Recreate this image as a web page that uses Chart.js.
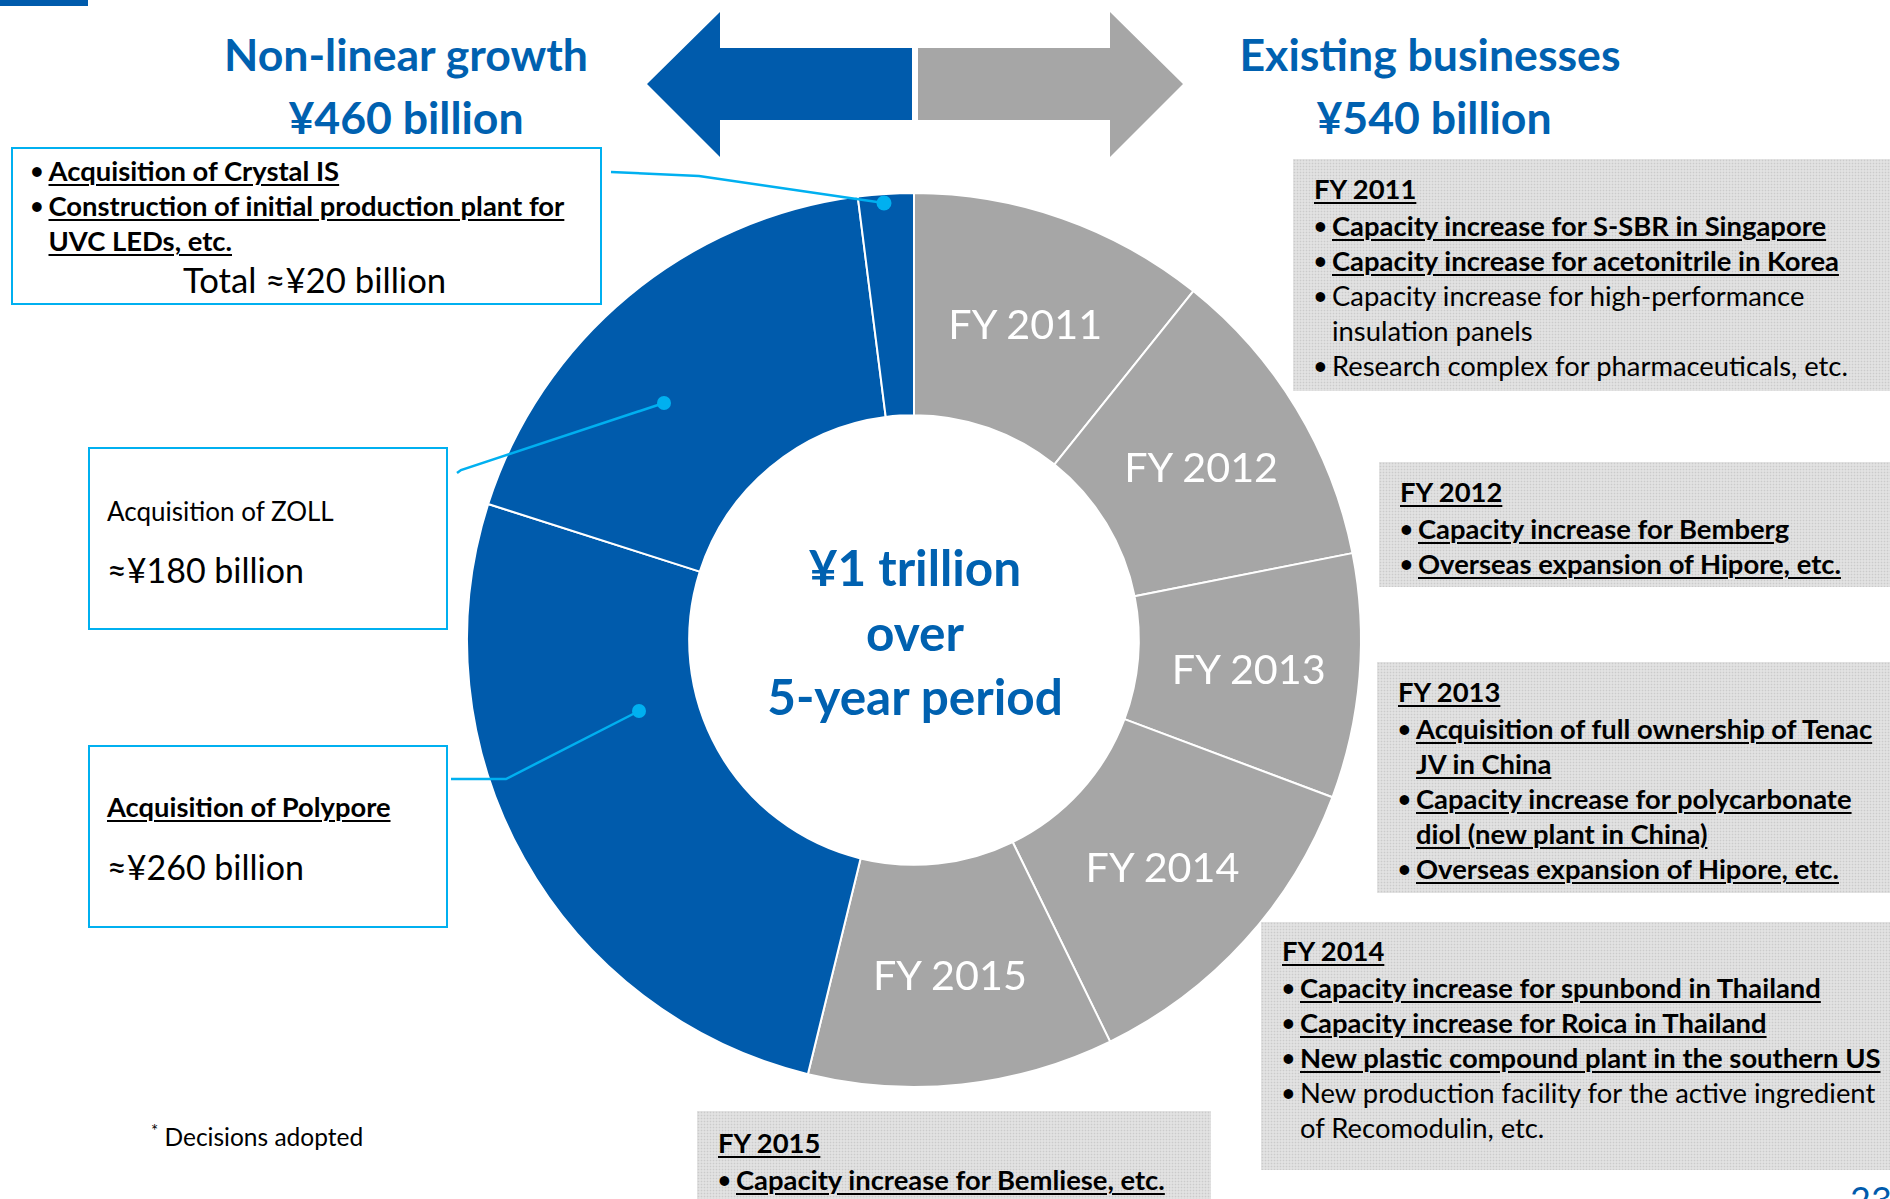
<!DOCTYPE html>
<html><head><meta charset="utf-8">
<script src="https://cdn.jsdelivr.net/npm/chart.js@4.4.1/dist/chart.umd.min.js"></script>
<style>
html,body{margin:0;padding:0;width:1890px;height:1199px;overflow:hidden;background:#fff;font-family:Lato,"Open Sans",sans-serif;color:#000;}
.abs{position:absolute}
.title{position:absolute;font-weight:700;color:#0061B0;font-size:44.6px;line-height:60px;text-align:center;white-space:nowrap;transform:translateX(-50%)}
.cbox{position:absolute;border:2.5px solid #00B0F0;box-sizing:border-box;background:#fff}
.note{position:absolute;box-sizing:border-box;background-color:#e2e2e2;
 background-image:radial-gradient(circle,#cbcbcb 0.7px,transparent 1.1px);background-size:3px 3px;
 font-size:27.4px;line-height:35px;padding-left:21px;white-space:nowrap;z-index:3}
.b{font-weight:700;text-decoration:underline;text-decoration-thickness:2px;text-underline-offset:3px}
.hd{margin-bottom:2px}
.it{position:relative;padding-left:18px}
.it::before{content:"•";position:absolute;left:0;top:0;font-size:22px;font-weight:700}
.seg{position:absolute;color:#fff;font-size:41.3px;white-space:nowrap;transform:translate(-50%,-50%);z-index:2}
#donut{position:absolute;left:454px;top:180px;z-index:1}
svg{position:absolute;left:0;top:0;z-index:5}
.ctr{position:absolute;color:#0061B0;font-weight:700;font-size:49.5px;line-height:64.5px;text-align:center;white-space:nowrap;transform:translateX(-50%);z-index:2}
</style></head><body>

<div class="abs" style="left:0;top:0;width:88px;height:6px;background:#005BAC"></div>

<div class="title" style="left:406px;top:24px">Non-linear growth</div>
<div class="title" style="left:406px;top:87px">¥460 billion</div>
<div class="title" style="left:1430px;top:24px">Existing businesses</div>
<div class="title" style="left:1434px;top:87px">¥540 billion</div>

<svg width="1890" height="1199" viewBox="0 0 1890 1199">
  <polygon points="647,84 720,12 720,48 912,48 912,120 720,120 720,157" fill="#005BAC"/>
  <polygon points="1183,84 1110,12 1110,48 918,48 918,120 1110,120 1110,157" fill="#A6A6A6"/>
  <polyline points="611,172 699,176 884,203" fill="none" stroke="#00B0F0" stroke-width="2.5"/>
  <circle cx="884" cy="203" r="7.5" fill="#00B0F0"/>
  <polyline points="457,473 461,470 664,403" fill="none" stroke="#00B0F0" stroke-width="2.5"/>
  <circle cx="664" cy="403" r="7" fill="#00B0F0"/>
  <polyline points="451,779 506,779 639,711" fill="none" stroke="#00B0F0" stroke-width="2.5"/>
  <circle cx="639" cy="711" r="7" fill="#00B0F0"/>
</svg>

<!-- left boxes -->
<div class="cbox" style="left:11px;top:147px;width:591px;height:158px;">
  <div style="position:absolute;left:17.5px;top:4px;font-size:27.4px;line-height:35px;white-space:nowrap">
    <div class="it"><span class="b">Acquisition of Crystal IS</span></div>
    <div class="it"><span class="b">Construction of initial production plant for</span><br><span class="b">UVC LEDs, etc.</span></div>
  </div>
  <div style="position:absolute;left:170px;top:111px;font-size:34.7px;line-height:40px;white-space:nowrap">Total ≈¥20 billion</div>
</div>
<div class="cbox" style="left:88px;top:447px;width:360px;height:183px;">
  <div style="position:absolute;left:17px;top:44px;font-size:26px;line-height:36px;white-space:nowrap">Acquisition of ZOLL</div>
  <div style="position:absolute;left:17px;top:101px;font-size:34px;line-height:40px;white-space:nowrap">≈¥180 billion</div>
</div>
<div class="cbox" style="left:88px;top:745px;width:360px;height:183px;">
  <div style="position:absolute;left:17px;top:42px;font-size:27.3px;line-height:36px;white-space:nowrap"><span class="b">Acquisition of Polypore</span></div>
  <div style="position:absolute;left:17px;top:100px;font-size:34px;line-height:40px;white-space:nowrap">≈¥260 billion</div>
</div>

<div class="abs" style="left:151px;top:1122px;font-size:24.5px;line-height:30px;white-space:nowrap"><span style="font-size:17px;position:relative;top:-9px">*</span> Decisions adopted</div>

<!-- right boxes -->
<div class="note" style="left:1293px;top:159px;width:597px;height:232px;padding-top:12px">
  <div class="hd"><span class="b">FY 2011</span></div>
  <div class="it"><span class="b">Capacity increase for S-SBR in Singapore</span></div>
  <div class="it"><span class="b">Capacity increase for acetonitrile in Korea</span></div>
  <div class="it">Capacity increase for high-performance<br>insulation panels</div>
  <div class="it">Research complex for pharmaceuticals, etc.</div>
</div>
<div class="note" style="left:1379px;top:462px;width:511px;height:125px;padding-top:12px">
  <div class="hd"><span class="b">FY 2012</span></div>
  <div class="it"><span class="b">Capacity increase for Bemberg</span></div>
  <div class="it"><span class="b">Overseas expansion of Hipore, etc.</span></div>
</div>
<div class="note" style="left:1377px;top:662px;width:513px;height:231px;padding-top:12px">
  <div class="hd"><span class="b">FY 2013</span></div>
  <div class="it"><span class="b">Acquisition of full ownership of Tenac</span><br><span class="b">JV in China</span></div>
  <div class="it"><span class="b">Capacity increase for polycarbonate</span><br><span class="b">diol (new plant in China)</span></div>
  <div class="it"><span class="b">Overseas expansion of Hipore, etc.</span></div>
</div>
<div class="note" style="left:1261px;top:922px;width:629px;height:248px;padding-top:11px">
  <div class="hd"><span class="b">FY 2014</span></div>
  <div class="it"><span class="b">Capacity increase for spunbond in Thailand</span></div>
  <div class="it"><span class="b">Capacity increase for Roica in Thailand</span></div>
  <div class="it"><span class="b">New plastic compound plant in the southern US</span></div>
  <div class="it">New production facility for the active ingredient<br>of Recomodulin, etc.</div>
</div>
<div class="note" style="left:697px;top:1111px;width:514px;height:120px;padding-top:14px">
  <div class="hd"><span class="b">FY 2015</span></div>
  <div class="it"><span class="b">Capacity increase for Bemliese, etc.</span></div>
</div>

<div class="abs" style="left:1850px;top:1181px;font-size:36px;line-height:36px;color:#005BAC">23</div>

<canvas id="donut" width="920" height="920"></canvas>
<div class="ctr" style="left:915px;top:535px">¥1 trillion<br>over<br>5-year period</div>

<script>
// ---- data (¥ billion, investment decisions adopted) ----
const segmentLabels = ['FY 2011','FY 2012','FY 2013','FY 2014','FY 2015','Acquisition of Polypore','Acquisition of ZOLL','Crystal IS / UVC LEDs'];
const segmentValues = [107, 111, 88, 120, 110, 260, 180, 20];
const segmentGroups = ['existing','existing','existing','existing','existing','nonlinear','nonlinear','nonlinear'];
const groupColors = {existing:'#A6A6A6', nonlinear:'#005BAC'};

const canvas = document.getElementById('donut');
const chart = new Chart(canvas, {
  type: 'doughnut',
  data: {
    labels: segmentLabels,
    datasets: [{
      data: segmentValues,
      backgroundColor: segmentGroups.map(g => groupColors[g]),
      borderColor: '#ffffff',
      borderWidth: 2,
      hoverOffset: 0
    }]
  },
  options: {
    responsive: false,
    animation: false,
    devicePixelRatio: 1,
    radius: 447,
    cutout: '50.3%',
    layout: {padding: 0},
    events: [],
    plugins: {legend: {display: false}, tooltip: {enabled: false}}
  }
});

// segment labels at the arc centroids computed by Chart.js
const meta = chart.getDatasetMeta(0);
const cl = canvas.offsetLeft, ct = canvas.offsetTop;
meta.data.forEach((arc, i) => {
  if (segmentGroups[i] !== 'existing') return;
  const p = arc.tooltipPosition();
  const d = document.createElement('div');
  d.className = 'seg';
  d.textContent = segmentLabels[i];
  d.style.left = (cl + p.x) + 'px';
  d.style.top = (ct + p.y) + 'px';
  document.body.appendChild(d);
});
</script>
</body></html>
